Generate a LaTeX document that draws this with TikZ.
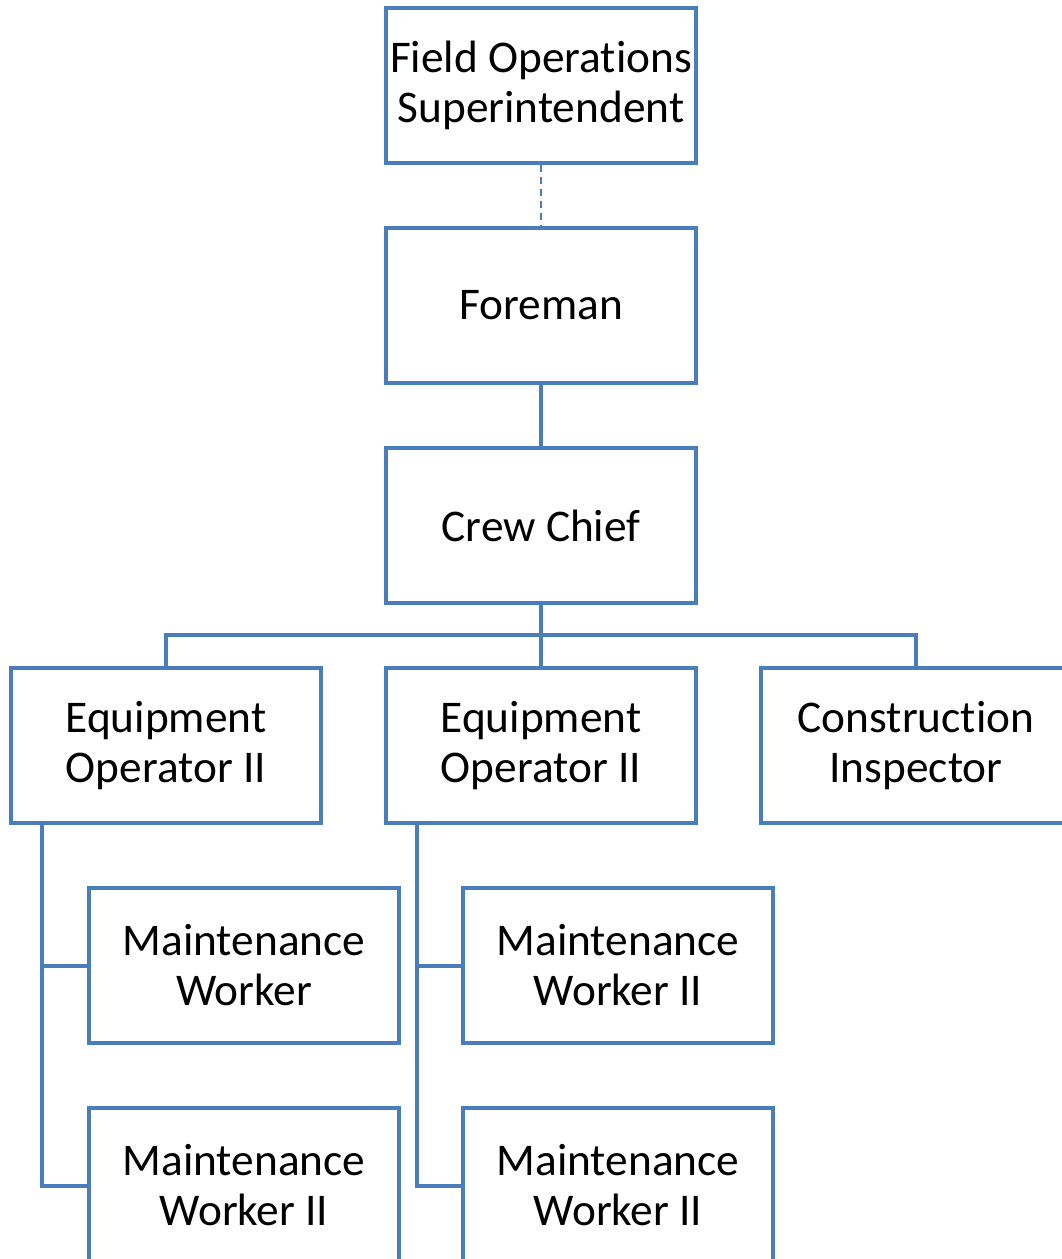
\documentclass[tikz,border=0pt]{standalone}
\usepackage{fontspec}
\setmainfont{Carlito}[Ligatures=NoCommon]
\usetikzlibrary{calc}
\definecolor{orgblue}{RGB}{74,126,187}
\begin{document}
\begin{tikzpicture}[x=0.75pt,y=-0.75pt,
  role/.style={draw=orgblue,line width=3pt,fill=white,minimum width=232.5pt,
    minimum height=116.25pt,align=center,inner sep=0pt,
    font=\fontsize{34}{37.5}\selectfont},
  link/.style={draw=orgblue,line width=3pt},
  dotted link/.style={draw=orgblue,line width=1.8pt,dash pattern=on 5pt off 4pt}]
\useasboundingbox (0,0) rectangle (1062,1259);
\clip (0,0) rectangle (1062,1259);
% boxes
\node[role] (fos) at (541,85.5) {Field Operations\\Superintendent};
\node[role] (foreman) at (541,305.5) {Foreman};
\node[role] (crew) at (541,525.5) {Crew Chief};
\node[role] (eo1) at (166,745.5) {Equipment\\Operator II};
\node[role] (eo2) at (541,745.5) {Equipment\\Operator II};
\node[role] (ci) at (916,745.5) {Construction\\Inspector};
\node[role] (mw1) at (244,965.5) {Maintenance\\Worker};
\node[role] (mw2) at (244,1185.5) {Maintenance\\Worker II};
\node[role] (mw3) at (618,965.5) {Maintenance\\Worker II};
\node[role] (mw4) at (618,1185.5) {Maintenance\\Worker II};
% reporting lines
\coordinate (bus) at (541,635);
\coordinate (s1) at ($(eo1.south west)+(33,0)$);
\coordinate (s2) at ($(eo2.south west)+(33,0)$);
\draw[dotted link] (fos.south) -- (foreman.north);
\draw[link] (foreman.south) -- (crew.north);
\draw[link] (crew.south) -- (bus);
\draw[link] (eo1.north) |- (bus) -| (ci.north);
\draw[link] (bus) -- (eo2.north);
\draw[link] (s1) |- (mw1.west);
\draw[link] (s1) |- (mw2.west);
\draw[link] (s2) |- (mw3.west);
\draw[link] (s2) |- (mw4.west);
\end{tikzpicture}
\end{document}
